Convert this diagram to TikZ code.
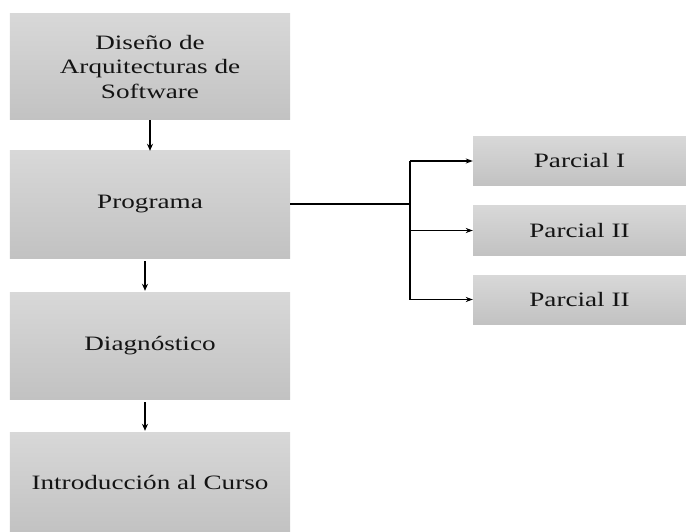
\documentclass[tikz,border=0pt]{standalone}
\usepackage{fontspec}
\usepackage{graphicx}
\setmainfont{Liberation Serif}
\usetikzlibrary{arrows.meta,calc}
\definecolor{boxtop}{RGB}{216,216,216}
\definecolor{boxbot}{RGB}{194,194,194}
\definecolor{txt}{RGB}{20,20,20}
\newcommand{\wide}[1]{\scalebox{1.33}[1]{#1}}
\tikzset{
  box/.style={rectangle, top color=boxtop, bottom color=boxbot, draw=none,
    inner sep=0pt, text=txt, align=center,
    font=\fontsize{20.5}{24.5}\selectfont},
  arr/.style={-{Stealth[length=7bp,width=6bp]}, line width=1.5bp, black},
  brarr/.style={-{Stealth[length=7bp,width=5bp]}, line width=1.1bp, black},
  brline/.style={line width=1.1bp, black}
}
\begin{document}
\begin{tikzpicture}[x=1bp,y=-1bp]
\useasboundingbox (0,0) rectangle (686,532);
\node[box, minimum width=280bp, minimum height=106bp] (b1) at (150,67)
  {\wide{Diseño de}\\\wide{Arquitecturas de}\\\wide{Software}};
\node[box, minimum width=280bp, minimum height=107bp] (b2) at (150,204.5) {\wide{Programa}};
\node[box, minimum width=280bp, minimum height=107bp] (b3) at (150,345.5) {\wide{Diagnóstico}};
\node[box, minimum width=280bp, minimum height=100bp] (b4) at (150,482) {\wide{Introducción al Curso}};
\node[box, minimum width=213bp, minimum height=49bp] (p1) at (579.5,161) {\wide{Parcial I}};
\node[box, minimum width=213bp, minimum height=49bp] (p2) at (579.5,230.5) {\wide{Parcial II}};
\node[box, minimum width=213bp, minimum height=49bp] (p3) at (579.5,299.5) {\wide{Parcial II}};
\coordinate (j) at (410,204);
\draw[arr] (b1.south) -- (b2.north);
\draw[arr] ($(b2.south)+(-5,3)$) -- ($(b3.north)+(-5,-1)$);
\draw[arr] ($(b3.south)+(-5,3)$) -- ($(b4.north)+(-5,-1)$);
\draw[brline] (b2.east |- j) -- (j);
\draw[brline] (j |- p1.west) -- (j |- p3.west);
\draw[brarr] (j |- p1.west) -- (p1.west);
\draw[brarr] (j |- p2.west) -- (p2.west);
\draw[brarr] (j |- p3.west) -- (p3.west);
\end{tikzpicture}
\end{document}
